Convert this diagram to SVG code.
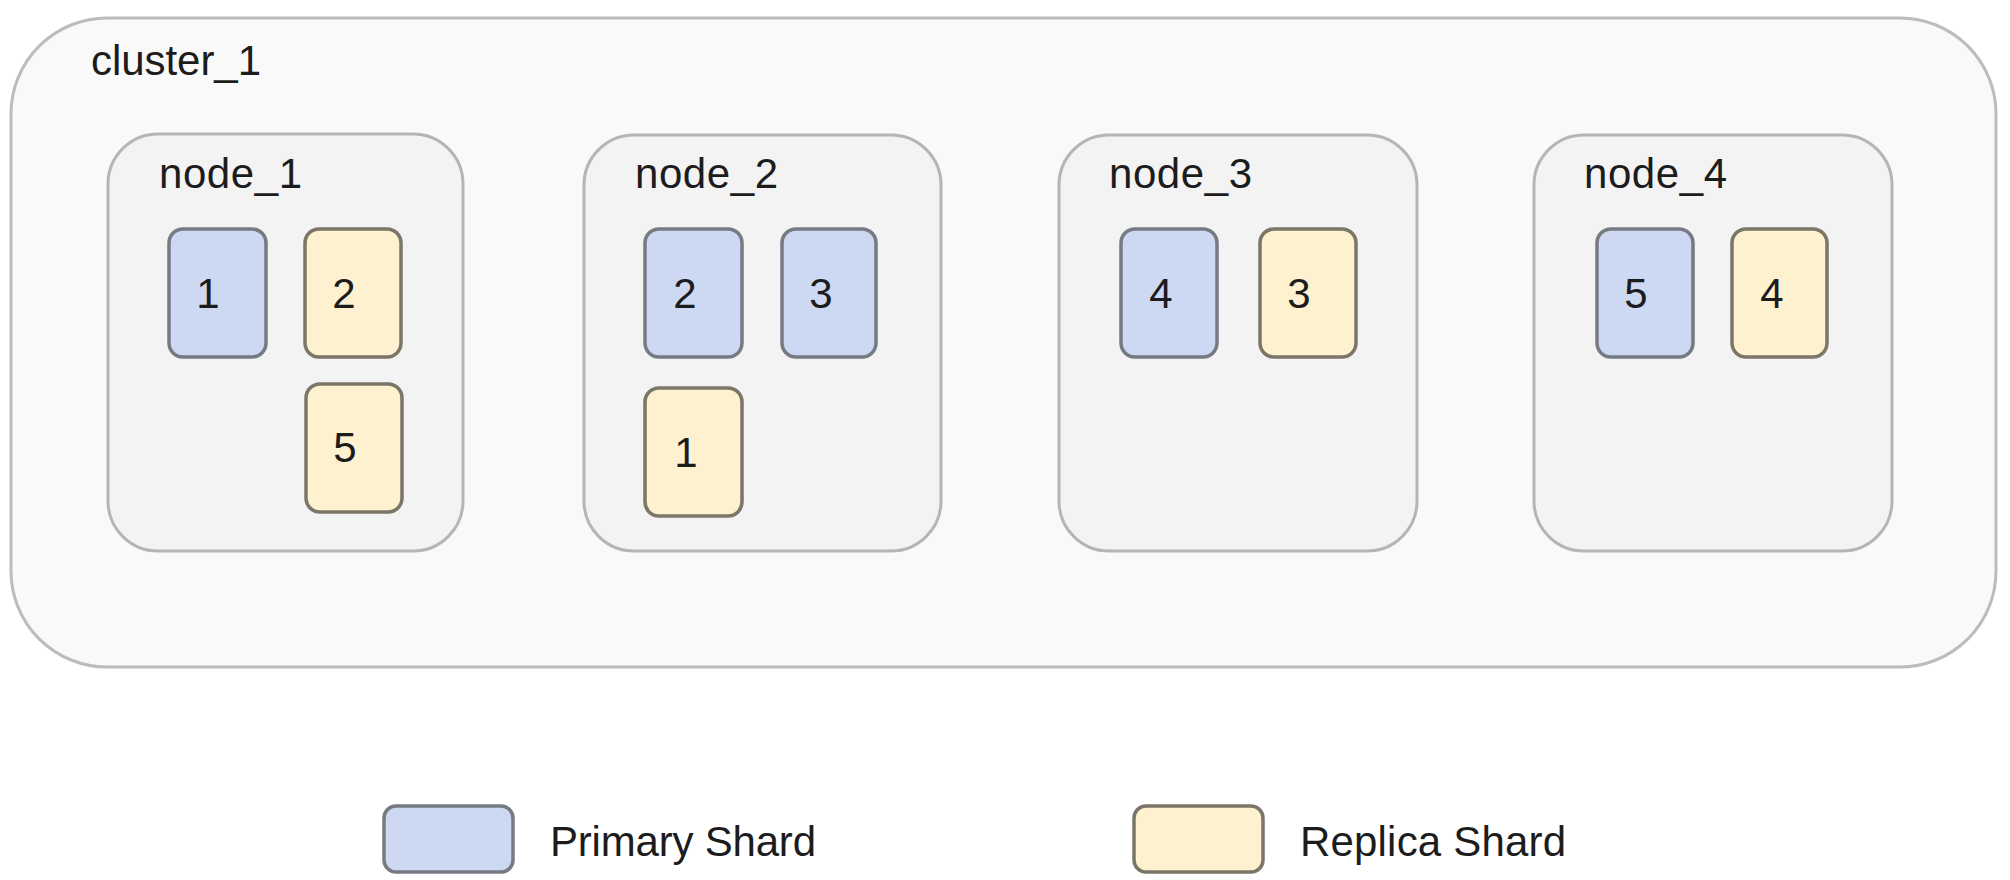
<svg xmlns="http://www.w3.org/2000/svg" width="2010" height="880" viewBox="0 0 2010 880">
  <style>
    text { font-family: "Liberation Sans", Arial, sans-serif; fill: #1c1c1c; }
    .cluster { fill: #f9f9f9; stroke: #bcbcbc; stroke-width: 3; }
    .node { fill: #f3f3f3; stroke: #b5b5b5; stroke-width: 3; }
    .primary { fill: #cdd9f2; stroke: #767a82; stroke-width: 3.5; }
    .replica { fill: #fdf1cf; stroke: #7b7667; stroke-width: 3.5; }
    .title { font-size: 42px; }
    .digit { font-size: 42px; text-anchor: middle; }
    .legend { font-size: 42px; }
  </style>
  <rect width="2010" height="880" fill="#ffffff"/>

  <g id="cluster_1">
    <rect class="cluster" x="11" y="18" width="1985" height="649" rx="96" ry="96"/>
    <text class="title" x="91" y="75" textLength="170" lengthAdjust="spacing">cluster_1</text>
  </g>

  <g id="node_1">
    <rect class="node" x="108" y="134" width="355" height="417" rx="50" ry="50"/>
    <text class="title" x="159" y="188" textLength="143" lengthAdjust="spacing">node_1</text>
    <g id="node_1_primary_1">
      <rect class="primary" x="169" y="229" width="97" height="128" rx="14" ry="14"/>
      <text class="digit" x="208" y="308">1</text>
    </g>
    <g id="node_1_replica_2">
      <rect class="replica" x="305" y="229" width="96" height="128" rx="14" ry="14"/>
      <text class="digit" x="344" y="308">2</text>
    </g>
    <g id="node_1_replica_5">
      <rect class="replica" x="306" y="384" width="96" height="128" rx="14" ry="14"/>
      <text class="digit" x="345" y="462">5</text>
    </g>
  </g>

  <g id="node_2">
    <rect class="node" x="584" y="135" width="357" height="416" rx="50" ry="50"/>
    <text class="title" x="635" y="188" textLength="143" lengthAdjust="spacing">node_2</text>
    <g id="node_2_primary_2">
      <rect class="primary" x="645" y="229" width="97" height="128" rx="14" ry="14"/>
      <text class="digit" x="685" y="308">2</text>
    </g>
    <g id="node_2_primary_3">
      <rect class="primary" x="782" y="229" width="94" height="128" rx="14" ry="14"/>
      <text class="digit" x="821" y="308">3</text>
    </g>
    <g id="node_2_replica_1">
      <rect class="replica" x="645" y="388" width="97" height="128" rx="14" ry="14"/>
      <text class="digit" x="686" y="467">1</text>
    </g>
  </g>

  <g id="node_3">
    <rect class="node" x="1059" y="135" width="358" height="416" rx="50" ry="50"/>
    <text class="title" x="1109" y="188" textLength="143" lengthAdjust="spacing">node_3</text>
    <g id="node_3_primary_4">
      <rect class="primary" x="1121" y="229" width="96" height="128" rx="14" ry="14"/>
      <text class="digit" x="1161" y="308">4</text>
    </g>
    <g id="node_3_replica_3">
      <rect class="replica" x="1260" y="229" width="96" height="128" rx="14" ry="14"/>
      <text class="digit" x="1299" y="308">3</text>
    </g>
  </g>

  <g id="node_4">
    <rect class="node" x="1534" y="135" width="358" height="416" rx="50" ry="50"/>
    <text class="title" x="1584" y="188" textLength="143" lengthAdjust="spacing">node_4</text>
    <g id="node_4_primary_5">
      <rect class="primary" x="1597" y="229" width="96" height="128" rx="14" ry="14"/>
      <text class="digit" x="1636" y="308">5</text>
    </g>
    <g id="node_4_replica_4">
      <rect class="replica" x="1732" y="229" width="95" height="128" rx="14" ry="14"/>
      <text class="digit" x="1772" y="308">4</text>
    </g>
  </g>

  <g id="connectors"></g>

  <g id="legend_primary">
    <rect class="primary" x="384" y="806" width="129" height="66" rx="12" ry="12"/>
    <text class="legend" x="550" y="856" textLength="266" lengthAdjust="spacing">Primary Shard</text>
  </g>
  <g id="legend_replica">
    <rect class="replica" x="1134" y="806" width="129" height="66" rx="12" ry="12"/>
    <text class="legend" x="1300" y="856" textLength="266" lengthAdjust="spacing">Replica Shard</text>
  </g>
</svg>
